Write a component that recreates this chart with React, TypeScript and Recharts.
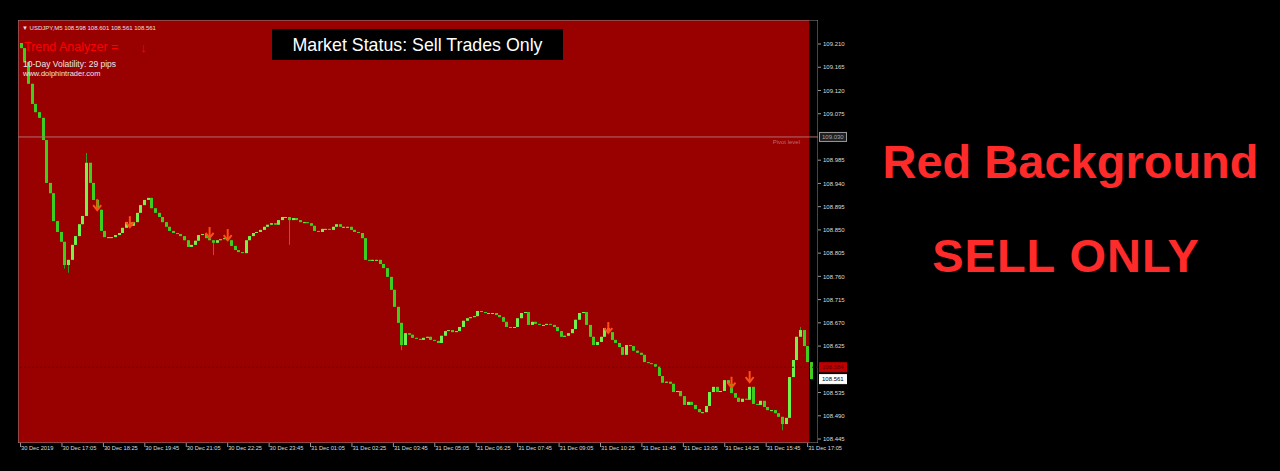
import { ComposedChart, Bar, Scatter, XAxis, YAxis, ReferenceArea, ReferenceLine } from 'recharts';

// USDJPY M5 closes left to right
const closes = [
    109.202, 109.175, 109.133, 109.094, 109.078, 109.067, 109.024, 108.941, 108.921, 108.867,
    108.846, 108.827, 108.782, 108.792, 108.821, 108.838, 108.861, 108.877, 108.980, 108.941,
    108.908, 108.889, 108.848, 108.836, 108.836, 108.836, 108.840, 108.844, 108.854, 108.865,
    108.858, 108.865, 108.883, 108.898, 108.908, 108.912, 108.892, 108.883, 108.875, 108.865,
    108.856, 108.848, 108.844, 108.842, 108.838, 108.830, 108.817, 108.821, 108.829, 108.840,
    108.842, 108.834, 108.830, 108.825, 108.830, 108.832, 108.834, 108.830, 108.819, 108.811,
    108.807, 108.805, 108.830, 108.838, 108.844, 108.846, 108.850, 108.856, 108.860, 108.863,
    108.860, 108.869, 108.875, 108.875, 108.869, 108.873, 108.869, 108.865, 108.865, 108.863,
    108.858, 108.848, 108.846, 108.852, 108.852, 108.850, 108.856, 108.861, 108.856, 108.856,
    108.856, 108.850, 108.846, 108.844, 108.834, 108.792, 108.790, 108.792, 108.792, 108.784,
    108.776, 108.759, 108.734, 108.701, 108.670, 108.627, 108.650, 108.647, 108.641, 108.639,
    108.637, 108.641, 108.643, 108.637, 108.635, 108.631, 108.645, 108.654, 108.656, 108.652,
    108.654, 108.662, 108.674, 108.679, 108.681, 108.683, 108.693, 108.691, 108.689, 108.689,
    108.689, 108.685, 108.681, 108.672, 108.662, 108.660, 108.662, 108.679, 108.689, 108.691,
    108.666, 108.672, 108.668, 108.666, 108.666, 108.668, 108.666, 108.662, 108.654, 108.643,
    108.645, 108.650, 108.658, 108.676, 108.689, 108.691, 108.666, 108.643, 108.627, 108.633,
    108.643, 108.660, 108.652, 108.637, 108.631, 108.623, 108.608, 108.627, 108.625, 108.616,
    108.612, 108.608, 108.594, 108.592, 108.590, 108.585, 108.567, 108.554, 108.556, 108.552,
    108.536, 108.538, 108.528, 108.511, 108.517, 108.511, 108.503, 108.497, 108.497, 108.509,
    108.536, 108.546, 108.536, 108.538, 108.559, 108.552, 108.534, 108.525, 108.517, 108.523,
    108.521, 108.546, 108.513, 108.511, 108.519, 108.507, 108.501, 108.501, 108.495, 108.488,
    108.474, 108.486, 108.565, 108.598, 108.643, 108.656, 108.625, 108.594, 108.561,
];
const firstOpen = 109.212;

// [bar, price] for the longer shadows
const highWicks: [number, number][] = [[18, 108.999], [215, 108.662]];
const lowWicks: [number, number][] = [[12, 108.775], [13, 108.767], [53, 108.801], [74, 108.821], [105, 108.617], [210, 108.462]];

// sell signal arrows [bar, price]
const sellSignals: [number, number][] = [[21, 108.898], [30, 108.865], [52, 108.844], [57, 108.840], [162, 108.660], [196, 108.554], [201, 108.565]];

const priceTicks = [108.445, 108.49, 108.535, 108.58, 108.625, 108.67, 108.715, 108.76, 108.805, 108.85, 108.895, 108.94, 108.985, 109.03, 109.075, 109.12, 109.165, 109.21];
const timeLabels = [
    '30 Dec 2019', '30 Dec 17:05', '30 Dec 18:25', '30 Dec 19:45', '30 Dec 21:05', '30 Dec 22:25', '30 Dec 23:45',
    '31 Dec 01:05', '31 Dec 02:25', '31 Dec 03:45', '31 Dec 05:05', '31 Dec 06:25', '31 Dec 07:45', '31 Dec 09:05',
    '31 Dec 10:25', '31 Dec 11:45', '31 Dec 13:05', '31 Dec 14:25', '31 Dec 15:45', '31 Dec 17:05',
];
const LABEL_STEP = 80; // minutes between time labels
const BAR_MINUTES = 7;
const FIRST_BAR = 2;

const pivot = 109.03;
const ask = 108.584;
const bid = 108.561;

const X_MIN = -4;
const X_MAX = 1541;
const RED_END = 1524;
const Y_MIN = 108.4373;
const Y_MAX = 109.2565;

const FONT = '"Liberation Sans", Arial, sans-serif';

const candles = closes.map((c, i) => {
    const o = i === 0 ? firstOpen : closes[i - 1];
    let hi = Math.max(o, c);
    let lo = Math.min(o, c);
    highWicks.forEach(([b, p]) => { if (b === i) hi = Math.max(hi, p); });
    lowWicks.forEach(([b, p]) => { if (b === i) lo = Math.min(lo, p); });
    return { t: FIRST_BAR + i * BAR_MINUTES, open: o, close: c, range: [lo, hi] };
});

const signalData = sellSignals.map(([b, p]) => ({ t: FIRST_BAR + b * BAR_MINUTES, p }));
const timeTicks = timeLabels.map((_, k) => k * LABEL_STEP);
// the pivot and ask tags sit on top of these two levels
const axisTicks = priceTicks.filter((v) => Math.abs(v - pivot) > 0.01 && Math.abs(v - ask) > 0.01);

function Candle(props: any) {
    const { x, y, width, height, payload } = props;
    if (x == null || y == null) return null;
    const [lo, hi] = payload.range;
    const cx = Math.round(x + width / 2) + 0.5;
    const top = Math.min(y, y + height);
    const h = Math.abs(height);
    const k = hi > lo ? h / (hi - lo) : 0;
    const bTop = top + (hi - Math.max(payload.open, payload.close)) * k;
    const bBot = top + (hi - Math.min(payload.open, payload.close)) * k;
    const up = payload.close >= payload.open;
    return (
        <g>
            <line x1={cx} x2={cx} y1={top} y2={top + Math.max(h, 1)} stroke="#2f9a1c" strokeWidth={1} />
            <rect x={cx - 1.5} y={bTop} width={3} height={Math.max(1, bBot - bTop)} fill={up ? '#72f24a' : '#3ccf1e'} />
        </g>
    );
}

function SellArrow(props: any) {
    const { cx, cy } = props;
    if (cx == null || cy == null) return null;
    return (
        <g stroke="#ff4f14" strokeWidth={2} fill="none">
            <line x1={cx} x2={cx} y1={cy - 6} y2={cy + 4} />
            <path d={`M${cx - 4},${cy} L${cx},${cy + 5} L${cx + 4},${cy}`} />
        </g>
    );
}

function TimeTick(props: any) {
    const { x, y, payload } = props;
    const label = timeLabels[Math.round(payload.value / LABEL_STEP)];
    return (
        <g>
            <line x1={x + 0.5} x2={x + 0.5} y1={y} y2={y + 4} stroke="#9a9a9a" />
            <text x={x + 1} y={y + 7} fontSize={5.7} fill="#dcdcdc" fontFamily={FONT} textAnchor="start">{label}</text>
        </g>
    );
}

function PriceTag({ viewBox, value, fill, stroke, color, note }: any) {
    if (!viewBox) return null;
    const right = viewBox.x + viewBox.width;
    const y = viewBox.y;
    return (
        <g>
            {note && (
                <text x={right - 18} y={y + 7} fontSize={6} fill="#b86e6e" fontFamily={FONT} textAnchor="end">{note}</text>
            )}
            <rect x={right + 1.5} y={y - 4.5} width={27} height={9} fill={fill} stroke={stroke} />
            <text x={right + 4} y={y + 2.2} fontSize={6} fill={color} fontFamily={FONT}>{value}</text>
        </g>
    );
}

export default function App() {
    return (
        <div style={{ position: 'relative', width: 1280, height: 471, background: '#000', overflow: 'hidden' }}>
            <style>{'body{margin:0;background:#000}'}</style>
            <ComposedChart
                width={1280}
                height={471}
                data={candles}
                margin={{ top: 20, right: 0, bottom: 0, left: 18 }}
                style={{ fontFamily: FONT }}
            >
                <ReferenceArea x1={X_MIN} x2={RED_END} y1={Y_MIN} y2={Y_MAX} fill="#990000" fillOpacity={1} stroke="none" ifOverflow="hidden" />
                <XAxis
                    dataKey="t"
                    type="number"
                    domain={[X_MIN, X_MAX]}
                    ticks={timeTicks}
                    allowDataOverflow
                    height={28}
                    tickLine={false}
                    axisLine={false}
                    tickSize={0}
                    tickMargin={0}
                    interval={0}
                    tick={<TimeTick />}
                />
                <YAxis
                    orientation="right"
                    type="number"
                    domain={[Y_MIN, Y_MAX]}
                    ticks={axisTicks}
                    allowDataOverflow
                    width={462}
                    axisLine={false}
                    tickSize={3}
                    tickMargin={2}
                    tickLine={{ stroke: '#9a9a9a' }}
                    interval={0}
                    tickFormatter={(v: number) => v.toFixed(3)}
                    tick={{ fontSize: 6, fill: '#dcdcdc', fontFamily: FONT }}
                />
                <ReferenceLine
                    y={ask}
                    stroke="#6e0000"
                    strokeDasharray="2 2"
                    label={(p: any) => <PriceTag viewBox={p.viewBox} value={ask.toFixed(3)} fill="#c00000" stroke="#c00000" color="#5a0000" />}
                />
                <ReferenceLine
                    y={pivot}
                    stroke="#b46c6c"
                    label={(p: any) => <PriceTag viewBox={p.viewBox} value={pivot.toFixed(3)} fill="#202020" stroke="#9a9a9a" color="#a8a8a8" note="Pivot level" />}
                />
                <ReferenceLine
                    y={bid}
                    stroke="none"
                    label={(p: any) => <PriceTag viewBox={p.viewBox} value={bid.toFixed(3)} fill="#ffffff" stroke="#ffffff" color="#000000" />}
                />
                <Bar dataKey="range" barSize={3} shape={<Candle />} isAnimationActive={false} />
                <Scatter data={signalData} dataKey="p" shape={<SellArrow />} isAnimationActive={false} />
                <ReferenceArea x1={X_MIN} x2={X_MAX} y1={Y_MIN} y2={Y_MAX} fill="none" stroke="#8c8c8c" ifOverflow="hidden" />
            </ComposedChart>
            <svg width={1280} height={471} style={{ position: 'absolute', left: 0, top: 0, pointerEvents: 'none' }} fontFamily={FONT}>
                <text x={22} y={30} fontSize={6} fill="#e0e0e0">▼ USDJPY,M5  108.598 108.601 108.561 108.561</text>
                <text x={24} y={51} fontSize={12.5} fill="#ff0000">Trend Analyzer =</text>
                <text x={140} y={52} fontSize={13} fontWeight="bold" fill="#ff0000">↓</text>
                <text x={23} y={67} fontSize={8.5} fill="#e6e6e6">10-Day Volatility: 29 pips</text>
                <text x={23} y={76} fontSize={7.5} fill="#e6e6e6">www.dolphintrader.com</text>
                <rect x={272} y={29} width={291} height={31} fill="#000" />
                <text x={417.5} y={51} fontSize={17.8} fill="#fff" textAnchor="middle">Market Status: Sell Trades Only</text>
                <text x={1070.5} y={178} fontSize={47} fontWeight="bold" fill="#ff2a2a" textAnchor="middle">Red Background</text>
                <text x={1066} y={272} fontSize={47} fontWeight="bold" fill="#ff2a2a" textAnchor="middle" letterSpacing={1}>SELL ONLY</text>
            </svg>
        </div>
    );
}
